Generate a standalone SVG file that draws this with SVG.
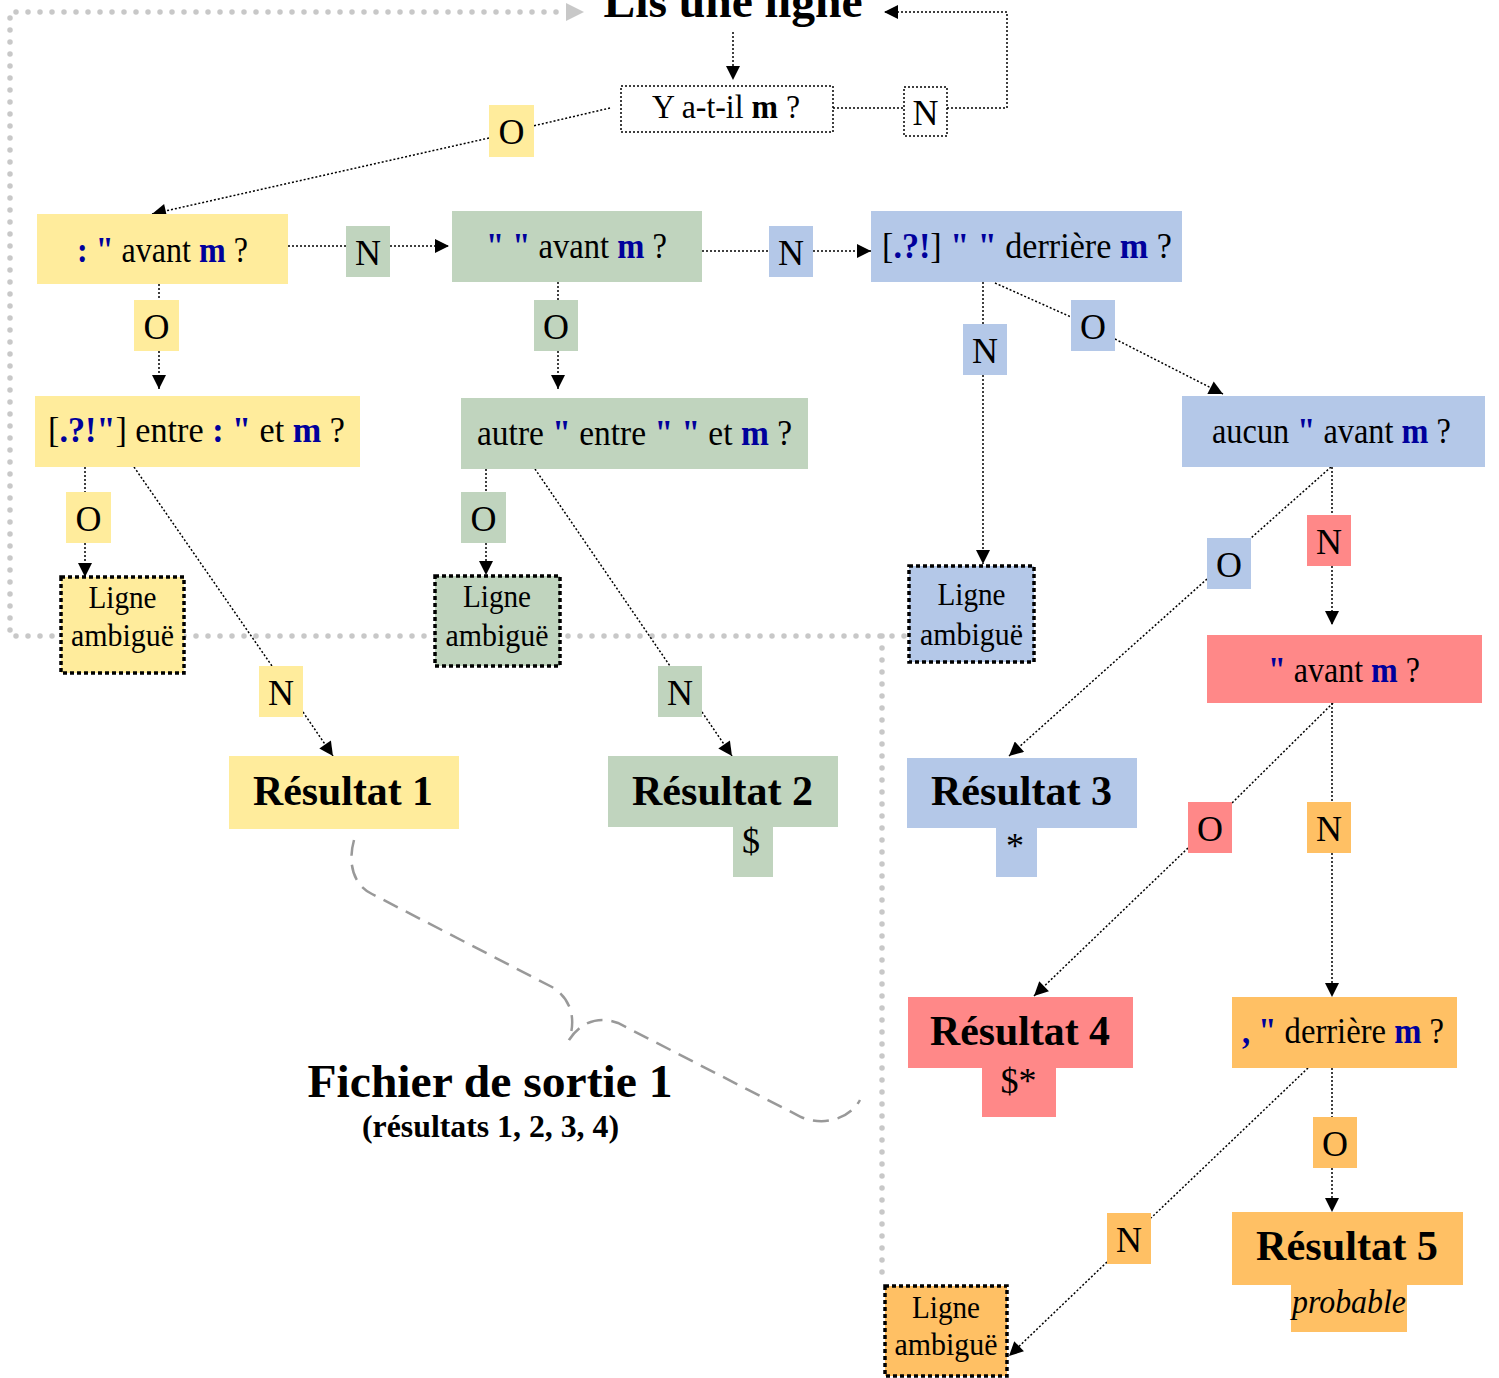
<svg xmlns="http://www.w3.org/2000/svg" width="1499" height="1378" viewBox="0 0 1499 1378">
<style>
text{font-family:"Liberation Serif","Times New Roman",serif;font-size:36px;fill:#000;text-anchor:middle}
.b{font-weight:bold;fill:#00009c}
text.res{font-weight:bold;font-size:42px}
text.amb{font-size:32px}
text.ttl{font-weight:bold;font-size:46px}
text.sub{font-weight:bold;font-size:31px}
text.s34{font-size:34px}
.cn{fill:none;stroke:#000;stroke-width:1.5;stroke-dasharray:2 2}
.gr{fill:none;stroke:#c8c8c8;stroke-width:5.5;stroke-linecap:round;stroke-dasharray:0 12}
.ab{stroke:#000;stroke-width:3.5;stroke-dasharray:4 3}
.th{fill:#fff;stroke:#000;stroke-width:1.5;stroke-dasharray:2 2}
.y{fill:#ffec9c}.g{fill:#c0d4be}.bl{fill:#b4c8e8}.r{fill:#ff8888}.o{fill:#ffc064}
</style>
<defs>
<marker id="ah" viewBox="0 0 10 10" refX="10" refY="5" markerWidth="15" markerHeight="14" markerUnits="userSpaceOnUse" orient="auto"><path d="M0,0L10,5L0,10z" fill="#000"/></marker>
</defs>
<g id="loop-gray">
<path class="gr" d="M904,636 H10 V12 H568"/>
<path d="M566,3 L584,12 L566,21z" fill="#c8c8c8"/>
<path class="gr" d="M882,636 V1283"/>
</g>
<g id="brace">
<path d="M354,840 C348,862 352,884 372,894 L552,987 C572,999 576,1020 569,1040 C578,1026 595,1014 618,1023 L801,1117 C825,1127 850,1118 860,1100" fill="none" stroke="#999" stroke-width="2.5" stroke-dasharray="16 9"/>
</g>
<g id="connectors">
<path class="cn" d="M733,32 V80" marker-end="url(#ah)"/>
<path class="cn" d="M833,108 H904"/>
<path class="cn" d="M947,108 H1007 V12 H884" marker-end="url(#ah)"/>
<path class="cn" d="M610,108 L533,126"/>
<path class="cn" d="M489,138 L152,214" marker-end="url(#ah)"/>
<path class="cn" d="M288,246 H346"/>
<path class="cn" d="M390,246 H449" marker-end="url(#ah)"/>
<path class="cn" d="M702,251 H769"/>
<path class="cn" d="M813,251 H871" marker-end="url(#ah)"/>
<path class="cn" d="M159,284 V300"/>
<path class="cn" d="M159,351 V389" marker-end="url(#ah)"/>
<path class="cn" d="M558,282 V300"/>
<path class="cn" d="M558,351 V389" marker-end="url(#ah)"/>
<path class="cn" d="M983,282 V324"/>
<path class="cn" d="M983,375 V564" marker-end="url(#ah)"/>
<path class="cn" d="M995,283 L1071,317"/>
<path class="cn" d="M1115,339 L1223,394" marker-end="url(#ah)"/>
<path class="cn" d="M85,467 V492"/>
<path class="cn" d="M85,543 V577" marker-end="url(#ah)"/>
<path class="cn" d="M134,467 L272,666"/>
<path class="cn" d="M303,712 L333,756" marker-end="url(#ah)"/>
<path class="cn" d="M486,469 V492"/>
<path class="cn" d="M486,543 V575" marker-end="url(#ah)"/>
<path class="cn" d="M535,469 L670,666"/>
<path class="cn" d="M702,712 L732,756" marker-end="url(#ah)"/>
<path class="cn" d="M1331,467 L1251,538"/>
<path class="cn" d="M1207,579 L1009,756" marker-end="url(#ah)"/>
<path class="cn" d="M1332,467 V515"/>
<path class="cn" d="M1332,566 V625" marker-end="url(#ah)"/>
<path class="cn" d="M1333,703 L1232,803"/>
<path class="cn" d="M1188,848 L1034,996" marker-end="url(#ah)"/>
<path class="cn" d="M1332,703 V802"/>
<path class="cn" d="M1332,853 V997" marker-end="url(#ah)"/>
<path class="cn" d="M1332,1068 V1117"/>
<path class="cn" d="M1332,1168 V1212" marker-end="url(#ah)"/>
<path class="cn" d="M1308,1068 L1151,1218"/>
<path class="cn" d="M1107,1262 L1009,1356" marker-end="url(#ah)"/>
</g>
<g id="title"><text class="ttl" x="733" y="17" textLength="259" lengthAdjust="spacingAndGlyphs">Lis une ligne</text></g>
<g id="q0"><rect class="th" x="621" y="86" width="212" height="46"/><text class="s34" x="726" y="118" textLength="148" lengthAdjust="spacingAndGlyphs">Y a-t-il <tspan font-weight="bold">m</tspan> ?</text></g>
<g id="l0n"><rect class="th" x="904" y="87" width="43" height="49"/><text x="925.5" y="125">N</text></g>
<g id="l0o"><rect class="y" x="489" y="105" width="45" height="52"/><text x="511.5" y="144">O</text></g>
<g id="q1"><rect class="y" x="37" y="214" width="251" height="70"/><text x="162.5" y="262" textLength="171" lengthAdjust="spacingAndGlyphs"><tspan class="b">: "</tspan> avant <tspan class="b">m</tspan> ?</text></g>
<g id="l1n"><rect class="g" x="346" y="226" width="44" height="51"/><text x="368" y="265">N</text></g>
<g id="q2"><rect class="g" x="452" y="211" width="250" height="71"/><text x="576.5" y="258" textLength="181" lengthAdjust="spacingAndGlyphs"><tspan class="b">" "</tspan> avant <tspan class="b">m</tspan> ?</text></g>
<g id="l2n"><rect class="bl" x="769" y="226" width="44" height="51"/><text x="791" y="265">N</text></g>
<g id="q3"><rect class="bl" x="871" y="211" width="311" height="71"/><text x="1027" y="258" textLength="290" lengthAdjust="spacingAndGlyphs">[<tspan class="b">.?!</tspan>] <tspan class="b">" "</tspan> derrière <tspan class="b">m</tspan> ?</text></g>
<g id="l1o"><rect class="y" x="134" y="300" width="45" height="51"/><text x="156.5" y="339">O</text></g>
<g id="l2o"><rect class="g" x="534" y="300" width="44" height="51"/><text x="556" y="339">O</text></g>
<g id="l3n"><rect class="bl" x="963" y="324" width="44" height="51"/><text x="985" y="363">N</text></g>
<g id="l3o"><rect class="bl" x="1071" y="300" width="44" height="51"/><text x="1093" y="339">O</text></g>
<g id="q4"><rect class="y" x="35" y="396" width="325" height="71"/><text x="196.5" y="442" textLength="297" lengthAdjust="spacingAndGlyphs">[<tspan class="b">.?!"</tspan>] entre <tspan class="b">: "</tspan> et <tspan class="b">m</tspan> ?</text></g>
<g id="q5"><rect class="g" x="461" y="398" width="347" height="71"/><text x="634.5" y="445" textLength="315" lengthAdjust="spacingAndGlyphs">autre <tspan class="b">"</tspan> entre <tspan class="b">" "</tspan> et <tspan class="b">m</tspan> ?</text></g>
<g id="q6"><rect class="bl" x="1182" y="396" width="303" height="71"/><text x="1331.5" y="443" textLength="239" lengthAdjust="spacingAndGlyphs">aucun <tspan class="b">"</tspan> avant <tspan class="b">m</tspan> ?</text></g>
<g id="l4o"><rect class="y" x="66" y="492" width="45" height="51"/><text x="88.5" y="531">O</text></g>
<g id="l4n"><rect class="y" x="259" y="666" width="44" height="51"/><text x="281" y="705">N</text></g>
<g id="l5o"><rect class="g" x="461" y="492" width="45" height="51"/><text x="483.5" y="531">O</text></g>
<g id="l5n"><rect class="g" x="658" y="666" width="44" height="51"/><text x="680" y="705">N</text></g>
<g id="l6o"><rect class="bl" x="1207" y="538" width="44" height="51"/><text x="1229" y="577">O</text></g>
<g id="l6n"><rect class="r" x="1307" y="515" width="44" height="51"/><text x="1329" y="554">N</text></g>
<g id="amb1"><rect class="y ab" x="61" y="577" width="123" height="96"/><text class="amb" x="122.5" y="608" textLength="68" lengthAdjust="spacingAndGlyphs">Ligne</text><text class="amb" x="122.5" y="646" textLength="103" lengthAdjust="spacingAndGlyphs">ambiguë</text></g>
<g id="amb2"><rect class="g ab" x="435" y="576" width="125" height="90"/><text class="amb" x="497" y="607" textLength="68" lengthAdjust="spacingAndGlyphs">Ligne</text><text class="amb" x="497" y="646" textLength="103" lengthAdjust="spacingAndGlyphs">ambiguë</text></g>
<g id="amb3"><rect class="bl ab" x="909" y="566" width="125" height="96"/><text class="amb" x="971.5" y="605" textLength="68" lengthAdjust="spacingAndGlyphs">Ligne</text><text class="amb" x="971.5" y="645" textLength="103" lengthAdjust="spacingAndGlyphs">ambiguë</text></g>
<g id="q7"><rect class="r" x="1207" y="635" width="275" height="68"/><text x="1344" y="682" textLength="152" lengthAdjust="spacingAndGlyphs"><tspan class="b">"</tspan> avant <tspan class="b">m</tspan> ?</text></g>
<g id="r1"><rect class="y" x="229" y="756" width="230" height="73"/><text class="res" x="343" y="805" textLength="180" lengthAdjust="spacingAndGlyphs">Résultat 1</text></g>
<g id="r2"><rect class="g" x="608" y="756" width="230" height="71"/><rect class="g" x="733" y="826" width="40" height="51"/><text class="res" x="722.5" y="805" textLength="181" lengthAdjust="spacingAndGlyphs">Résultat 2</text><text x="751" y="853">$</text></g>
<g id="r3"><rect class="bl" x="907" y="758" width="230" height="70"/><rect class="bl" x="996" y="827" width="41" height="50"/><text class="res" x="1021.5" y="805" textLength="181" lengthAdjust="spacingAndGlyphs">Résultat 3</text><text x="1015" y="858">*</text></g>
<g id="l7o"><rect class="r" x="1188" y="802" width="44" height="51"/><text x="1210" y="841">O</text></g>
<g id="l7n"><rect class="o" x="1307" y="802" width="44" height="51"/><text x="1329" y="841">N</text></g>
<g id="r4"><rect class="r" x="908" y="997" width="225" height="71"/><rect class="r" x="982" y="1067" width="74" height="50"/><text class="res" x="1020" y="1045" textLength="180" lengthAdjust="spacingAndGlyphs">Résultat 4</text><text x="1018.5" y="1093">$*</text></g>
<g id="q8"><rect class="o" x="1232" y="997" width="225" height="71"/><text x="1343" y="1043" textLength="202" lengthAdjust="spacingAndGlyphs"><tspan class="b">, "</tspan> derrière <tspan class="b">m</tspan> ?</text></g>
<g id="l8o"><rect class="o" x="1313" y="1117" width="44" height="51"/><text x="1335" y="1156">O</text></g>
<g id="l8n"><rect class="o" x="1107" y="1213" width="44" height="51"/><text x="1129" y="1252">N</text></g>
<g id="r5"><rect class="o" x="1232" y="1212" width="231" height="73"/><rect class="o" x="1291" y="1284" width="116" height="48"/><text class="res" x="1347" y="1260" textLength="182" lengthAdjust="spacingAndGlyphs">Résultat 5</text><text class="s34" x="1349" y="1313" font-style="italic" textLength="114" lengthAdjust="spacingAndGlyphs">probable</text></g>
<g id="amb4"><rect class="o ab" x="885" y="1286" width="122" height="90"/><text class="amb" x="946" y="1318" textLength="68" lengthAdjust="spacingAndGlyphs">Ligne</text><text class="amb" x="946" y="1355" textLength="103" lengthAdjust="spacingAndGlyphs">ambiguë</text></g>
<g id="output-label"><text class="ttl" x="490" y="1097" textLength="365" lengthAdjust="spacingAndGlyphs">Fichier de sortie 1</text><text class="sub" x="490.5" y="1137" textLength="257" lengthAdjust="spacingAndGlyphs">(résultats 1, 2, 3, 4)</text></g>
</svg>
